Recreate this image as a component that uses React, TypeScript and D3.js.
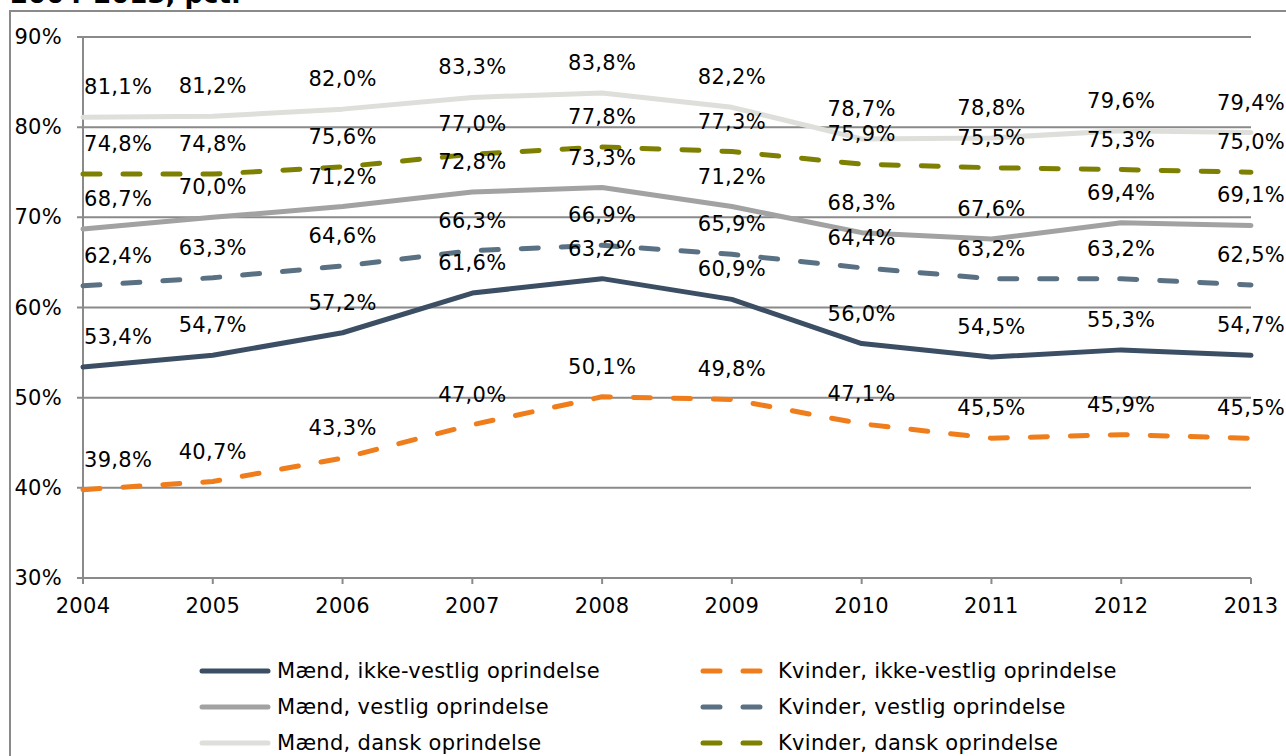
import React from "react";
import * as d3 from "d3";

const years = [2004, 2005, 2006, 2007, 2008, 2009, 2010, 2011, 2012, 2013];
const yTicks = [30, 40, 50, 60, 70, 80, 90];

const maendIkkeVestlig = [53.4, 54.7, 57.2, 61.6, 63.2, 60.9, 56.0, 54.5, 55.3, 54.7];
const maendVestlig = [68.7, 70.0, 71.2, 72.8, 73.3, 71.2, 68.3, 67.6, 69.4, 69.1];
const maendDansk = [81.1, 81.2, 82.0, 83.3, 83.8, 82.2, 78.7, 78.8, 79.6, 79.4];
const kvinderIkkeVestlig = [39.8, 40.7, 43.3, 47.0, 50.1, 49.8, 47.1, 45.5, 45.9, 45.5];
const kvinderVestlig = [62.4, 63.3, 64.6, 66.3, 66.9, 65.9, 64.4, 63.2, 63.2, 62.5];
const kvinderDansk = [74.8, 74.8, 75.6, 77.0, 77.8, 77.3, 75.9, 75.5, 75.3, 75.0];

const seriesNames = [
  "Mænd, ikke-vestlig oprindelse",
  "Mænd, vestlig oprindelse",
  "Mænd, dansk oprindelse",
  "Kvinder, ikke-vestlig oprindelse",
  "Kvinder, vestlig oprindelse",
  "Kvinder, dansk oprindelse",
];

const title = "2004-2013, pct.";

const FONT = "'DejaVu Sans', Verdana, sans-serif";

export default function App() {
  const W = 1286, H = 756;
  const x = d3.scaleLinear().domain([2004, 2013]).range([83, 1251]);
  const y = d3.scaleLinear().domain([30, 90]).range([578, 37]);

  const series = [
    { name: seriesNames[0], values: maendIkkeVestlig, color: "#3b4e63", dash: null },
    { name: seriesNames[1], values: maendVestlig, color: "#a2a2a2", dash: null },
    { name: seriesNames[2], values: maendDansk, color: "#dedfda", dash: null },
    { name: seriesNames[3], values: kvinderIkkeVestlig, color: "#ef7d1c", dash: "17,23" },
    { name: seriesNames[4], values: kvinderVestlig, color: "#5a7184", dash: "17,23" },
    { name: seriesNames[5], values: kvinderDansk, color: "#7d8000", dash: "17,23" },
  ];

  const line = d3
    .line<number>()
    .x((_, i) => x(years[i]))
    .y((v) => y(v));

  const fmt = (v: number) => v.toFixed(1).replace(".", ",") + "%";
  const gridColor = "#8a8a8a";
  const fs = 21;
  const ls = 0.3;

  const drawOrder = [2, 5, 1, 4, 0, 3];
  const legendRows = [671, 707, 743];

  return (
    <svg
      width={W}
      height={H}
      style={{ position: "absolute", left: 0, top: 0, background: "#fff" }}
      fontFamily={FONT}
    >
      <rect x={0} y={0} width={W} height={H} fill="#fff" />
      <text x={10} y={3} fontSize={26} fontWeight="bold" fill="#000">
        {title}
      </text>
      <rect x={10} y={11} width={1300} height={800} fill="none" stroke={gridColor} strokeWidth={2} />

      {yTicks.map((t) => (
        <line key={t} x1={77} x2={1251} y1={y(t)} y2={y(t)} stroke={gridColor} strokeWidth={2} />
      ))}
      <line x1={83} x2={83} y1={y(90)} y2={584} stroke={gridColor} strokeWidth={2} />
      {years.map((yr) => (
        <line key={yr} x1={x(yr)} x2={x(yr)} y1={578} y2={584} stroke={gridColor} strokeWidth={2} />
      ))}

      {yTicks.map((t) => (
        <text key={t} x={62} y={y(t)} textAnchor="end" dominantBaseline="central"
          fontSize={fs} letterSpacing={ls} fill="#000">
          {t}%
        </text>
      ))}
      {years.map((yr) => (
        <text key={yr} x={x(yr)} y={606} textAnchor="middle" dominantBaseline="central"
          fontSize={fs} letterSpacing={ls} fill="#000">
          {yr}
        </text>
      ))}

      {drawOrder.map((si) => {
        const s = series[si];
        return (
          <path
            key={s.name}
            d={line(s.values) || ""}
            fill="none"
            stroke={s.color}
            strokeWidth={5}
            strokeLinecap="round"
            strokeLinejoin="round"
            strokeDasharray={s.dash || undefined}
          />
        );
      })}

      {series.map((s) =>
        s.values.map((v, i) => (
          <text
            key={s.name + i}
            x={i === 0 ? 84 : x(years[i])}
            y={y(v) - 30}
            textAnchor={i === 0 ? "start" : "middle"}
            dominantBaseline="central"
            fontSize={fs}
            letterSpacing={ls}
            fill="#000"
          >
            {fmt(v)}
          </text>
        ))
      )}

      {series.map((s, i) => {
        const col = i < 3 ? 0 : 1;
        const row = i % 3;
        const lx1 = col === 0 ? 202 : 703;
        const lx2 = col === 0 ? 268 : 761;
        const tx = col === 0 ? 277 : 778;
        const ly = legendRows[row];
        return (
          <g key={s.name}>
            <line x1={lx1} x2={lx2} y1={ly} y2={ly} stroke={s.color} strokeWidth={5}
              strokeLinecap="round" strokeDasharray={s.dash ? "17,23" : undefined} />
            <text x={tx} y={ly} dominantBaseline="central" fontSize={fs} letterSpacing={ls} fill="#000">
              {s.name}
            </text>
          </g>
        );
      })}
    </svg>
  );
}
